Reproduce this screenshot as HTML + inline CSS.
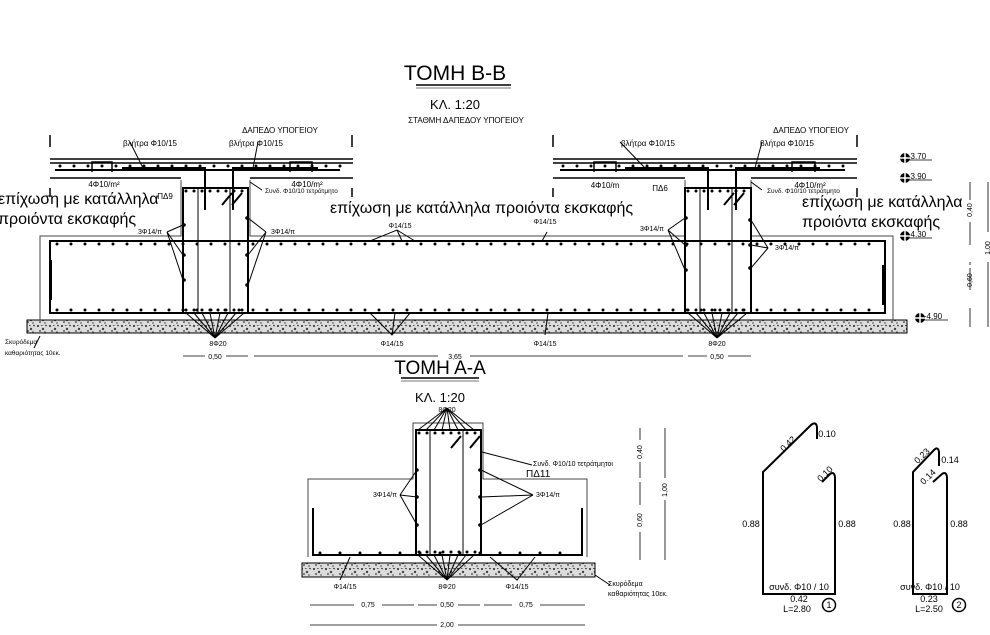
<!DOCTYPE html>
<html><head><meta charset="utf-8"><style>
html,body{margin:0;padding:0;background:#fff;}
svg{display:block;font-family:"Liberation Sans",sans-serif;}
</style></head><body>
<svg width="990" height="635" viewBox="0 0 990 635" xmlns="http://www.w3.org/2000/svg">
<defs>
<pattern id="conc" width="12" height="9" patternUnits="userSpaceOnUse">
<rect width="12" height="9" fill="#dcdcdc"/>
<circle cx="2" cy="2" r="1" fill="#222"/><circle cx="7" cy="5" r="1.2" fill="#444"/>
<circle cx="10" cy="1.5" r="0.8" fill="#222"/><circle cx="4" cy="7" r="0.9" fill="#333"/>
<circle cx="9" cy="8" r="0.7" fill="#333"/><rect x="5" y="1" width="1.5" height="1" fill="#555"/>
</pattern>
</defs>
<g fill="#000" text-anchor="middle">
<text x="455" y="80" font-size="21">ΤΟΜΗ Β-Β</text>
<text x="455" y="109" font-size="13">ΚΛ. 1:20</text>
<text x="466" y="123" font-size="8">ΣΤΑΘΜΗ ΔΑΠΕΔΟΥ ΥΠΟΓΕΙΟΥ</text>
<text x="440" y="374" font-size="19">ΤΟΜΗ Α-Α</text>
<text x="440" y="402" font-size="13">ΚΛ. 1:20</text>
</g>
<g stroke="#000" fill="none">
<line x1="416" y1="85" x2="511" y2="85" stroke-width="1.5"/><line x1="416" y1="88" x2="511" y2="88" stroke="#777"/>
<line x1="401" y1="378" x2="479" y2="378" stroke-width="1.5"/><line x1="401" y1="381" x2="479" y2="381" stroke="#777"/>
</g>

<rect x="27" y="320" width="880" height="13" fill="url(#conc)" stroke="#000"/>
<rect x="302" y="563" width="293" height="14" fill="url(#conc)" stroke="#000"/>

<g stroke="#000" fill="none" stroke-width="1">
<path d="M40 320 V236 H181 V180 M250 180 V236 H685 V180 M751 180 V236 H893 V320" stroke="#444"/>
<rect x="50" y="241" width="835" height="72" stroke-width="2"/>
<line x1="51" y1="260" x2="51" y2="300" stroke-width="2"/>
<line x1="883" y1="265" x2="883" y2="305" stroke-width="2"/>
<!-- rebar dots -->
<g stroke-width="3" stroke-linecap="round" stroke-dasharray="0 14">
<line x1="57" y1="244" x2="880" y2="244"/><line x1="57" y1="310" x2="880" y2="310"/>
<line x1="60" y1="166" x2="350" y2="166"/><line x1="563" y1="166" x2="855" y2="166"/>
<line x1="186" y1="191" x2="246" y2="191" stroke-dasharray="0 8"/><line x1="688" y1="191" x2="748" y2="191" stroke-dasharray="0 8"/>
<line x1="186" y1="310" x2="246" y2="310" stroke-dasharray="0 8"/><line x1="688" y1="310" x2="748" y2="310" stroke-dasharray="0 8"/>
<line x1="419" y1="433" x2="479" y2="433" stroke-dasharray="0 8"/><line x1="419" y1="552" x2="479" y2="552" stroke-dasharray="0 8"/>
<line x1="320" y1="553" x2="580" y2="553" stroke-dasharray="0 20"/>
</g>
<g fill="#000" stroke="none">
<circle cx="184" cy="225" r="1.8"/><circle cx="184" cy="255" r="1.8"/><circle cx="184" cy="280" r="1.8"/>
<circle cx="247" cy="218" r="1.8"/><circle cx="247" cy="255" r="1.8"/><circle cx="247" cy="285" r="1.8"/>
<circle cx="686" cy="218" r="1.8"/><circle cx="686" cy="245" r="1.8"/><circle cx="686" cy="270" r="1.8"/>
<circle cx="750" cy="220" r="1.8"/><circle cx="750" cy="245" r="1.8"/><circle cx="750" cy="268" r="1.8"/>
<circle cx="417" cy="470" r="1.8"/><circle cx="417" cy="497" r="1.8"/><circle cx="417" cy="525" r="1.8"/>
<circle cx="480" cy="470" r="1.8"/><circle cx="480" cy="497" r="1.8"/><circle cx="480" cy="525" r="1.8"/>
</g>
<rect x="183" y="188" width="65" height="125" stroke-width="2"/>
<line x1="198" y1="188" x2="198" y2="313"/><line x1="230" y1="188" x2="230" y2="313"/>
<rect x="685" y="188" width="66" height="125" stroke-width="2"/>
<line x1="700" y1="188" x2="700" y2="313"/><line x1="732" y1="188" x2="732" y2="313"/>
<path d="M222 205 l10 -12 M232 205 l10 -12 M724 205 l10 -12 M734 205 l10 -12" stroke-width="2"/>
<path d="M50 159 H353 M50 163 H353 M50 178 H181 M250 178 H353" stroke-width="1.5"/>
<path d="M553 159 H857 M553 163 H857 M553 178 H685 M751 178 H857" stroke-width="1.5"/>
<path d="M55 170 H340 M560 170 H845" stroke-width="2"/>
<path d="M122 168 H205 V210 M233 210 V168 H318" stroke-width="2"/>
<path d="M625 168 H708 V210 M736 210 V168 H820" stroke-width="2"/>
<path d="M92 172 V162 H112 V172 M290 172 V162 H312 V172 M594 172 V162 H616 V172 M792 172 V162 H815 V172" stroke-width="1.5"/>
<path d="M50 135 V147 M50 188 V197 M352 135 V147 M352 188 V197 M553 135 V147 M553 188 V197 M857 135 V147 M857 188 V197" stroke-width="1.5"/>
<path d="M130 142 L143 168 M258 142 L253 168 M250 182 L262 190 M620 142 L645 168 M762 142 L755 168 M751 182 L762 190"/>
<path d="M167 232 L183 225 M167 232 L183 255 M167 232 L183 280 M266 232 L248 218 M266 232 L248 255 M266 232 L248 285"/>
<path d="M668 230 L685 218 M668 230 L685 245 M668 230 L685 270 M768 248 L751 220 M768 248 L751 245 M768 248 L751 268"/>
<path d="M370 241 L397 230 L415 241 M397 230 L402 241 M542 241 L547 232"/>
<path d="M370 313 L392 335 L410 313 M392 335 L395 313 M548 313 L545 335"/>
<path d="M215 338 L186 313 M215 338 L194 313 M215 338 L202 313 M215 338 L210 313 M215 338 L220 313 M215 338 L228 313 M215 338 L236 313 M215 338 L244 313"/>
<path d="M717 338 L688 313 M717 338 L696 313 M717 338 L704 313 M717 338 L712 313 M717 338 L722 313 M717 338 L730 313 M717 338 L738 313 M717 338 L747 313"/>
<path d="M40 336 L34 348"/>
<path d="M183 356 H205 M226 356 H248 M254 356 H438 M470 356 H683 M688 356 H707 M728 356 H751" stroke-width="0.8"/>
<path d="M970 182 V200 M970 222 V245 M970 262 V265 M970 268 V290 M970 308 V327 M988 182 V232 M988 262 V327" stroke-width="0.8"/>
<path d="M905 160 H932 M905 180 H932 M905 238 H932 M920 320 H948" stroke-width="0.8"/>
</g>
<g fill="#000">
<circle cx="905" cy="158" r="5"/><circle cx="905" cy="178" r="5"/><circle cx="905" cy="236" r="5"/><circle cx="920" cy="318" r="5"/>
</g>
<g stroke="#fff" stroke-width="1.5"><path d="M905 153 V163 M900 158 H910 M905 173 V183 M900 178 H910 M905 231 V241 M900 236 H910 M920 313 V323 M915 318 H925"/></g>
<g fill="#000" font-size="8" text-anchor="middle">
<text x="917" y="159">-3.70</text><text x="917" y="179">-3.90</text><text x="917" y="237">-4.30</text><text x="933" y="319">-4.90</text>
<text transform="translate(972,210) rotate(-90)" font-size="7">0,40</text>
<text transform="translate(972,280) rotate(-90)" font-size="7">0,60</text>
<text transform="translate(990,248) rotate(-90)" font-size="7">1,00</text>
<text x="218" y="346" font-size="7">8Φ20</text><text x="717" y="346" font-size="7">8Φ20</text>
<text x="392" y="346" font-size="7">Φ14/15</text><text x="545" y="346" font-size="7">Φ14/15</text>
<text x="400" y="228" font-size="7">Φ14/15</text><text x="545" y="224" font-size="7">Φ14/15</text>
<text x="215" y="359" font-size="7">0,50</text><text x="455" y="359" font-size="7">3,65</text><text x="717" y="359" font-size="7">0,50</text>
<text x="280" y="133" font-size="8">ΔΑΠΕΔΟ ΥΠΟΓΕΙΟΥ</text><text x="811" y="133" font-size="8">ΔΑΠΕΔΟ ΥΠΟΓΕΙΟΥ</text>
<text x="150" y="146" font-size="8">βλήτρα Φ10/15</text><text x="256" y="146" font-size="8">βλήτρα Φ10/15</text>
<text x="648" y="146" font-size="8">βλήτρα Φ10/15</text><text x="787" y="146" font-size="8">βλήτρα Φ10/15</text>
<text x="104" y="187" font-size="8">4Φ10/m²</text><text x="307" y="187" font-size="8">4Φ10/m²</text>
<text x="605" y="188" font-size="8">4Φ10/m</text><text x="810" y="188" font-size="8">4Φ10/m²</text>
<text x="165" y="199" font-size="8">ΠΔ9</text><text x="660" y="191" font-size="8">ΠΔ6</text>
<text x="150" y="234" font-size="7">3Φ14/π</text><text x="283" y="234" font-size="7">3Φ14/π</text>
<text x="652" y="231" font-size="7">3Φ14/π</text><text x="787" y="250" font-size="7">3Φ14/π</text>
</g>
<g fill="#000" font-size="6.5">
<text x="265" y="193">Συνδ. Φ10/10 τετράτμητο</text><text x="767" y="193">Συνδ. Φ10/10 τετράτμητο</text>
<text x="5" y="344">Σκυρόδεμα</text><text x="5" y="355">καθαριότητας 10εκ.</text>
</g>
<g fill="#000" font-size="16">
<text x="-2" y="204">επίχωση με κατάλληλα</text><text x="-2" y="224">προιόντα εκσκαφής</text>
<text x="330" y="213">επίχωση με κατάλληλα προιόντα εκσκαφής</text>
<text x="802" y="207">επίχωση με κατάλληλα</text><text x="802" y="227">προιόντα εκσκαφής</text>
</g>

<g stroke="#000" fill="none">
<path d="M308 557 V479 H413 V423 H483 V479 H587 V557" stroke="#444"/>
<rect x="416" y="430" width="65" height="125" stroke-width="2"/>
<line x1="430" y1="430" x2="430" y2="555"/><line x1="463" y1="430" x2="463" y2="555"/>
<path d="M313 508 V555 H582 V508" stroke-width="2"/>
<path d="M451 448 l10 -12 M470 448 l10 -12" stroke-width="2"/>
<path d="M447 408 L418 430 M447 408 L426 430 M447 408 L434 430 M447 408 L442 430 M447 408 L450 430 M447 408 L458 430 M447 408 L466 430 M447 408 L474 430"/>
<path d="M447 580 L418 555 M447 580 L426 555 M447 580 L434 555 M447 580 L442 555 M447 580 L450 555 M447 580 L458 555 M447 580 L466 555 M447 580 L474 555"/>
<path d="M400 495 L417 470 M400 495 L417 497 M400 495 L417 525 M533 495 L481 470 M533 495 L481 497 M533 495 L481 525"/>
<path d="M482 452 L532 465 M350 557 L340 580 M490 557 L517 580 L535 557 M595 575 L610 585"/>
<path d="M310 605 H354 M382 605 H414 M418 605 H437 M458 605 H480 M484 605 H512 M540 605 H585 M310 625 H437 M458 625 H585" stroke-width="0.8"/>
<path d="M640 428 V440 M640 462 V478 M640 482 V505 M640 532 V560 M665 428 V478 M665 500 V560" stroke-width="0.8"/>
<path d="M817 439 V427 Q816 421 811 425 L763 472 V594 H835 V477 Q834 471 830 474 L822 482" stroke-width="2"/>
<path d="M939 466 V452 Q938 446 934 450 L913 472 V594 H947 V477 Q946 471 942 474 L933 482" stroke-width="2"/>
<circle cx="829" cy="605" r="6.5" stroke-width="1.5"/><circle cx="959" cy="605" r="6.5" stroke-width="1.5"/>
</g>
<g fill="#000" font-size="7" text-anchor="middle">
<text x="447" y="412">8Φ20</text><text x="447" y="589">8Φ20</text>
<text x="345" y="589">Φ14/15</text><text x="517" y="589">Φ14/15</text>
<text x="385" y="497">3Φ14/π</text><text x="548" y="497">3Φ14/π</text>
<text x="368" y="607">0,75</text><text x="447" y="607">0,50</text><text x="526" y="607">0,75</text>
<text x="447" y="627">2,00</text>
<text transform="translate(642,452) rotate(-90)">0,40</text>
<text transform="translate(642,520) rotate(-90)">0,60</text>
<text transform="translate(667,490) rotate(-90)">1,00</text>
</g>
<g fill="#000" font-size="7">
<text x="533" y="466">Συνδ. Φ10/10 τετράτμητοι</text>
<text x="608" y="586">Σκυρόδεμα</text><text x="608" y="596">καθαριότητας 10εκ.</text>
</g>
<text x="526" y="477" font-size="10" fill="#000">ΠΔ11</text>
<g fill="#000" font-size="9" text-anchor="middle">
<text x="827" y="437">0.10</text><text x="751" y="527">0.88</text><text x="847" y="527">0.88</text>
<text x="799" y="590">συνδ. Φ10 / 10</text><text x="799" y="602">0.42</text><text x="797" y="612">L=2.80</text>
<text transform="translate(790,446) rotate(-44)">0.42</text>
<text transform="translate(827,476) rotate(-44)">0.10</text>
<text x="950" y="463">0.14</text><text x="902" y="527">0.88</text><text x="959" y="527">0.88</text>
<text x="930" y="590">συνδ. Φ10 / 10</text><text x="929" y="602">0.23</text><text x="929" y="612">L=2.50</text>
<text transform="translate(924,458) rotate(-44)">0.23</text>
<text transform="translate(930,479) rotate(-44)">0.14</text>
<text x="829" y="608">1</text><text x="959" y="608">2</text>
</g>
</svg>
</body></html>
